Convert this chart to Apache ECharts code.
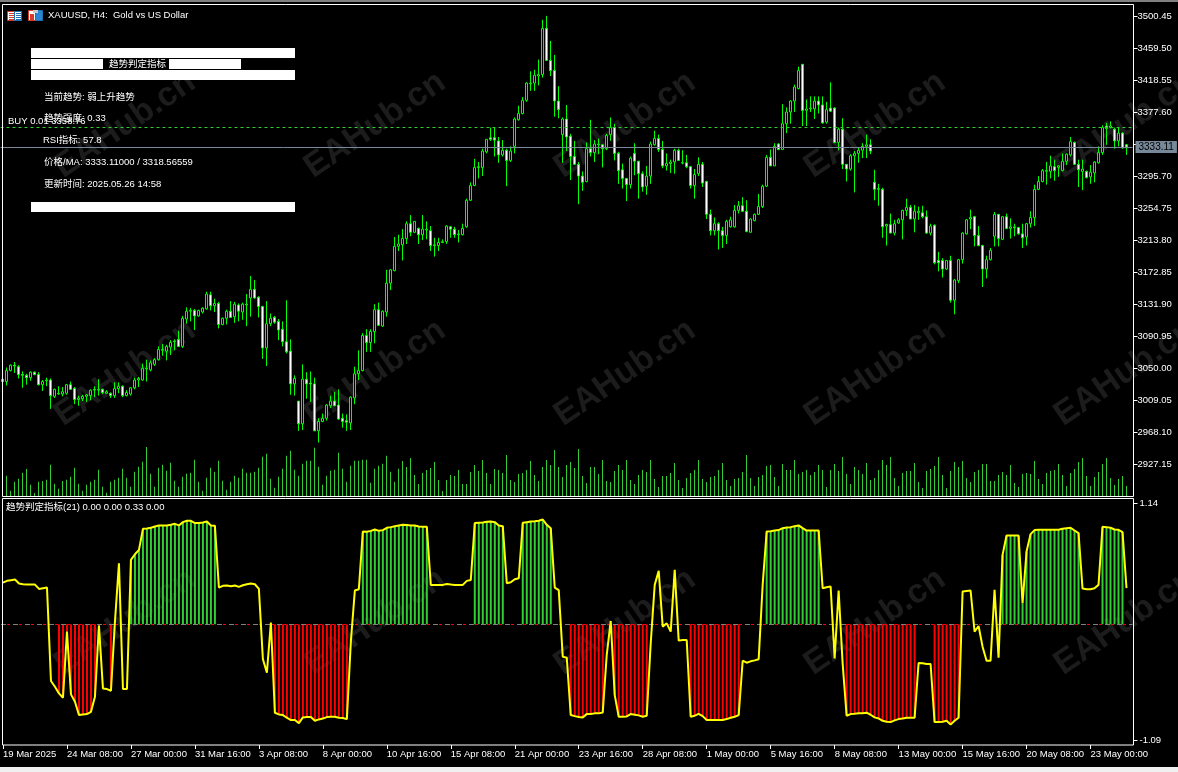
<!DOCTYPE html>
<html><head><meta charset="utf-8">
<style>html,body{margin:0;padding:0;background:#000}#c{width:1178px;height:772px}</style>
<script src="https://cdn.jsdelivr.net/npm/echarts@6/dist/echarts.min.js"></script>
</head><body><div id="c"></div>
<script>
const tickLabels=['19 Mar 2025','24 Mar 08:00','27 Mar 00:00','31 Mar 16:00','3 Apr 08:00','8 Apr 00:00','10 Apr 16:00','15 Apr 08:00','21 Apr 00:00','23 Apr 16:00','28 Apr 08:00','1 May 00:00','5 May 16:00','8 May 08:00','13 May 00:00','15 May 16:00','20 May 08:00','23 May 00:00'];
const priceTicks=[3500.45,3459.50,3418.55,3377.60,3336.65,3295.70,3254.75,3213.80,3172.85,3131.90,3090.95,3050.00,3009.05,2968.10,2927.15];
const indicatorTicks=[1.14,-1.09];
const lastPrice=3333.11, buyPrice=3358.3;
const opens=[3033,3033,3047,3054,3052,3042,3041,3038,3045,3042,
3029,3034,3035,3014,3017,3017,3018,3029,3024,3010,
3011,3014,3015,3022,3022,3023,3018,3018,3015,3024,
3027,3015,3017,3025,3035,3035,3049,3048,3055,3061,
3073,3072,3077,3084,3087,3078,3113,3123,3124,3117,
3122,3126,3144,3130,3133,3106,3114,3123,3116,3131,
3122,3131,3140,3151,3141,3129,3076,3107,3115,3110,
3100,3084,3072,3030,3008,2979,3036,3031,3030,2970,
2982,2986,3002,3008,3003,2986,2983,2980,3012,3043,
3047,3092,3083,3097,3125,3104,3122,3159,3175,3206,
3208,3216,3235,3224,3229,3221,3227,3226,3207,3207,
3211,3212,3231,3228,3221,3221,3231,3265,3284,3307,
3307,3327,3345,3345,3341,3323,3329,3316,3334,3368,
3376,3393,3414,3415,3424,3426,3485,3444,3431,3392,
3349,3369,3347,3321,3311,3296,3289,3331,3326,3336,
3336,3331,3349,3358,3325,3304,3293,3285,3325,3315,
3299,3283,3296,3336,3344,3330,3309,3312,3314,3329,
3312.6,3313,3308,3284,3299,3311,3289,3247,3226,3235,
3226,3220,3231,3231,3252,3258,3251,3224,3239,3247,
3257,3283,3320,3309,3337,3330,3363,3378,3392,3408,
3439,3380,3382,3382,3392,3387,3365,3383,3383,3339,
3356,3311,3305,3322,3325,3329,3334,3336,3288,3279,
3279,3232,3234,3223,3236,3240,3252,3256,3241,3249,
3249,3244,3223,3233,3188,3188,3177,3188,3137,3162,
3189,3222,3241,3244,3220,3207,3177,3189,3219,3247,
3215,3244,3229,3230,3230,3222,3218,3235,3243,3279,
3289,3302,3302,3308,3307,3303,3315,3323,3339,3311,
3302,3302,3295,3300,3313,3326,3360,3358,3356,3341,
3351,3336];
const closes=[3036,3047,3054,3053,3042,3041,3038,3045,3042,3029,
3033,3035,3015,3023,3018,3020,3029,3023,3010,3012,
3014,3016,3022,3023,3023,3019,3020,3015,3024,3027,
3015,3019,3025,3035,3037,3050,3050,3057,3061,3074,
3074,3078,3083,3085,3078,3114,3123,3124,3117,3124,
3127,3145,3130,3133,3106,3114,3123,3115,3132,3123,
3132,3132,3151,3140,3129,3076,3107,3114,3109,3099,
3084,3071,3030,3037,2979,3036,3030,3030,2970,2982,
2986,3003,3008,3002,2985,2982,2981,3013,3043,3047,
3092,3083,3097,3125,3105,3123,3159,3176,3206,3209,
3216,3235,3224,3238,3221,3228,3228,3207,3208,3211,
3212,3232,3228,3221,3222,3229,3265,3284,3307,3308,
3328,3343,3343,3342,3323,3329,3316,3328,3369,3376,
3393,3415,3415,3425,3426,3485,3444,3431,3392,3381,
3369,3346,3321,3311,3296,3288,3331,3326,3337,3337,
3331,3348,3358,3325,3303,3293,3285,3319,3315,3299,
3282,3296,3337,3344,3330,3309,3312,3314,3329,3316,
3313,3308,3284,3298,3311,3287,3247,3226,3235,3226,
3220,3238,3240,3252,3258,3251,3225,3241,3247,3257,
3283,3320,3309,3334,3330,3363,3378,3392,3410,3431,
3380,3382,3383,3392,3387,3364,3381,3379,3339,3356,
3311,3305,3322,3325,3329,3334,3336,3328,3279,3280,
3231,3234,3223,3235,3240,3252,3256,3241,3251,3251,
3244,3223,3232,3185,3185,3177,3188,3137,3163,3189,
3223,3240,3243,3220,3207,3177,3189,3201,3247,3216,
3244,3229,3231,3231,3222,3217,3235,3243,3279,3289,
3303,3303,3309,3303,3309,3315,3324,3340,3311,3304,
3305,3294,3301,3314,3326,3358,3357,3360,3341,3351,
3332,3333.11];
const lows=[3031,3028,3046,3044,3037,3025,3029,3034,3041,3028,
3021,3027,2998,3012,3016,3014,3016,3023,3004,3002,
3008,3007,3009,3013,3015,3017,3017,3012,3012,3018,
3013,3014,3015,3023,3026,3034,3033,3046,3053,3060,
3066,3060,3067,3073,3078,3076,3107,3110,3099,3116,
3120,3125,3124,3122,3101,3105,3106,3115,3108,3110,
3112,3104,3116,3139,3115,3062,3053,3104,3107,3086,
3078,3069,3016,3015,2970,2971,3011,3007,2970,2955,
2981,2983,2999,3002,2984,2974,2970,2971,3004,3035,
3046,3071,3071,3082,3104,3103,3116,3150,3174,3200,
3188,3209,3219,3223,3209,3214,3215,3200,3193,3200,
3210,3209,3217,3217,3211,3220,3230,3264,3283,3293,
3296,3325,3341,3321,3313,3321,3283,3314,3325,3367,
3375,3391,3405,3405,3412,3422,3444,3424,3372,3370,
3313,3328,3291,3310,3260,3277,3288,3321,3314,3324,
3307,3329,3341,3316,3286,3280,3264,3280,3297,3267,
3276,3272,3286,3335,3327,3306,3303,3300,3299,3316,
3311,3306,3280,3267,3296,3282,3241,3220,3220,3202,
3204,3209,3230,3230,3248,3250,3224,3224,3238,3246,
3255,3282,3309,3309,3329,3330,3351,3363,3378,3407,
3360,3360,3378,3369,3376,3363,3363,3378,3338,3329,
3305,3289,3303,3275,3313,3319,3319,3324,3265,3258,
3217,3207,3223,3220,3235,3215,3245,3241,3224,3240,
3242,3222,3220,3183,3174,3166,3176,3134,3119,3159,
3184,3221,3228,3206,3206,3154,3165,3188,3206,3206,
3214,3228,3216,3219,3221,3204,3207,3230,3232,3278,
3288,3285,3293,3290,3295,3302,3310,3321,3310,3282,
3278,3293,3286,3288,3312,3323,3336,3357,3331,3334,
3331,3323];
const highs=[3037,3051,3055,3058,3054,3046,3043,3046,3046,3045,
3035,3038,3037,3024,3027,3026,3030,3033,3026,3015,
3016,3017,3023,3027,3036,3024,3022,3019,3032,3032,
3028,3022,3026,3038,3039,3056,3061,3060,3063,3078,
3081,3080,3086,3087,3098,3117,3128,3127,3126,3125,
3128,3148,3148,3139,3135,3115,3125,3136,3135,3133,
3134,3145,3168,3163,3142,3130,3136,3120,3117,3113,
3110,3137,3087,3041,3008,3055,3045,3046,3038,2986,
2992,3004,3015,3020,3023,2992,2991,3014,3052,3073,
3095,3100,3100,3132,3134,3124,3176,3177,3218,3221,
3228,3238,3246,3238,3230,3246,3238,3232,3217,3217,
3215,3233,3232,3231,3227,3235,3267,3288,3318,3314,
3331,3343,3358,3358,3346,3342,3331,3334,3371,3386,
3397,3416,3430,3432,3445,3496,3501,3469,3451,3411,
3371,3387,3350,3341,3314,3302,3339,3368,3342,3344,
3337,3350,3371,3363,3327,3312,3293,3321,3338,3315,
3302,3309,3340,3354,3349,3341,3325,3317,3331,3331,
3329,3323,3309,3305,3320,3314,3290,3253,3243,3237,
3231,3240,3244,3259,3264,3269,3265,3242,3248,3273,
3285,3323,3330,3338,3338,3388,3384,3393,3413,3436,
3439,3394,3398,3398,3398,3398,3391,3416,3384,3358,
3370,3311,3324,3328,3333,3338,3349,3343,3304,3286,
3281,3235,3248,3240,3242,3253,3267,3259,3259,3257,
3258,3252,3235,3234,3199,3191,3188,3194,3164,3190,
3224,3241,3253,3245,3232,3208,3194,3204,3250,3247,
3245,3248,3242,3235,3231,3235,3236,3251,3285,3296,
3305,3314,3322,3317,3310,3325,3325,3346,3340,3317,
3317,3303,3310,3315,3334,3361,3364,3366,3358,3358,
3352,3337];
const volumes=[0,61,16,43,52,70,81,34,9,43,
45,49,94,37,22,45,49,58,85,37,
16,34,43,49,79,28,10,43,49,55,
82,55,28,73,88,103,147,67,28,85,
94,76,100,46,28,58,67,70,109,43,
16,55,85,73,106,46,19,43,61,55,
82,70,70,73,85,118,127,52,25,58,
82,121,136,79,61,97,106,106,145,88,
34,61,76,79,130,82,43,91,106,106,
109,109,40,82,91,97,121,73,43,82,
105,87,114,63,36,69,78,84,102,48,
15,48,63,60,78,36,36,72,93,75,
108,69,36,81,78,69,123,48,42,66,
69,78,105,63,45,87,108,93,138,87,
57,93,102,84,141,60,39,87,87,66,
108,45,42,75,93,78,108,48,36,63,
78,72,108,51,27,60,60,69,99,48,
24,54,69,78,108,51,42,57,60,78,
99,48,30,51,54,72,123,54,30,57,
63,90,93,57,30,96,78,78,108,66,
72,78,63,72,93,78,27,78,96,75,
117,66,36,87,78,66,99,48,54,78,
108,93,117,54,30,69,75,75,99,42,
24,75,81,90,117,63,24,75,102,87,
105,54,42,72,78,96,96,45,45,63,
72,63,93,39,27,66,69,66,105,51,
36,69,75,78,96,63,30,69,81,102,
114,60,30,57,72,96,114,54,33,51,
60,30];
const trendLine=[.393,.409,.415,.421,.384,.377,.374,.374,.374,.333,
.340,.346,-.534,-.588,-.651,-.692,-.069,-.660,-.729,-.855,
-.849,-.846,-.824,-.682,-.013,-.604,-.610,-.626,.025,.575,
-.610,-.610,.607,.660,.701,.899,.902,.909,.921,.931,
.931,.931,.937,.946,.931,.962,.975,.975,.953,.953,
.959,.968,.931,.927,.346,.362,.365,.358,.365,.352,
.368,.377,.384,.377,.333,-.327,-.456,.016,-.833,-.849,
-.855,-.880,-.902,-.902,-.931,-.877,-.874,-.874,-.909,-.896,
-.887,-.874,-.871,-.871,-.880,-.883,-.893,-.163,.318,.330,
.874,.871,.880,.893,.880,.887,.909,.915,.924,.931,
.937,.934,.931,.931,.921,.918,.918,.371,.371,.371,
.371,.380,.374,.371,.371,.371,.409,.418,.953,.956,
.959,.965,.968,.962,.931,.924,.387,.396,.424,.434,
.956,.962,.968,.971,.975,.987,.937,.905,.346,.321,
-.305,-.314,-.855,-.865,-.874,-.877,-.846,-.846,-.839,-.839,
-.830,-.289,.031,-.667,-.871,-.871,-.868,-.846,-.852,-.858,
-.871,-.861,-.179,.371,.503,-.022,.009,-.069,.512,-.154,
-.148,-.148,-.871,-.861,-.843,-.865,-.902,-.902,-.902,-.902,
-.902,-.893,-.880,-.871,-.855,-.343,-.362,-.349,-.340,-.330,
.371,.874,.877,.883,.887,.905,.912,.915,.924,.931,
.905,.883,.883,.883,.883,.340,.349,.355,-.321,.318,
-.368,-.861,-.846,-.843,-.839,-.839,-.833,-.852,-.877,-.887,
-.909,-.918,-.921,-.905,-.893,-.887,-.880,-.880,-.880,-.365,
-.368,-.374,-.374,-.921,-.921,-.918,-.909,-.943,-.909,-.880,
.308,.314,.318,-.069,-.016,-.211,-.343,-.343,.324,-.314,
.654,.836,.836,.836,.836,.198,.685,.849,.887,.890,
.890,.890,.890,.890,.890,.899,.905,.909,.883,.858,
.336,.330,.330,.340,.371,.918,.915,.909,.893,.890,
.868,.340];
const greenRuns=[[32,53],[90,106],[118,125],[130,137],[191,204],[250,269],[275,280]];
const redRuns=[[14,24],[27,27],[68,86],[142,150],[153,161],[172,184],[211,228],[233,239]];
const watermarkCols=[125,375,625,875,1125];
const watermarkRows=[125,373,622];
const panelLines=[['当前趋势: 弱上升趋势',44,97],['趋势强度: 0.33',44,118],['RSI指标: 57.8',43,140],['价格/MA: 3333.11000 / 3318.56559',44,162],['更新时间: 2025.05.26 14:58',44,184]];

const bandCount=opens.length+1;
const categories=Array.from({length:bandCount},(_,i)=>i%16===0&&tickLabels[i/16]?tickLabels[i/16]:'');
const candleData=opens.map((o,i)=>[o,closes[i],lows[i],highs[i]]);
const inRuns=(runs,i)=>runs.some(r=>i>=r[0]&&i<=r[1]);
const greenBars=trendLine.map((v,i)=>inRuns(greenRuns,i)?v:null);
const redBars=trendLine.map((v,i)=>inRuns(redRuns,i)?v:null);
const FONT='"Liberation Sans"';
const CJK='"Liberation Sans","Noto Sans CJK SC"';
const graphic=[];
graphic.push({type:'rect',z:0,shape:{x:0,y:0,width:1178,height:2},style:{fill:'#808080'}});
graphic.push({type:'rect',z:0,shape:{x:0,y:767,width:1178,height:5},style:{fill:'#f0f0f0'}});
watermarkRows.forEach(y=>watermarkCols.forEach(x=>graphic.push({type:'text',z:0,x,y,rotation:0.6,style:{text:'EAHub.cn',fill:'#1c1c1c',font:'bold 34px "Liberation Sans"',align:'center',verticalAlign:'middle'}})));
graphic.push({type:'rect',z:60,shape:{x:2.5,y:4.5,width:1131,height:492},style:{fill:null,stroke:'#fff',lineWidth:1}});
graphic.push({type:'rect',z:60,shape:{x:2.5,y:498.5,width:1131,height:246.5},style:{fill:null,stroke:'#fff',lineWidth:1}});
[[31,48,264,10],[31,59,72,10],[169,59,72,10],[31,70,264,10],[31,202,264,10]].forEach(r=>graphic.push({type:'rect',z:70,shape:{x:r[0],y:r[1],width:r[2],height:r[3]},style:{fill:'#fff'}}));
const txt=(t,x,y,extra)=>graphic.push({type:'text',z:72,x,y,style:Object.assign({text:t,fill:'#fff',font:'9.5px '+CJK,align:'left',verticalAlign:'middle'},extra||{})});
txt('BUY 0.01 3358.76',8,121.5);
panelLines.forEach(l=>txt(l[0],l[1],l[2]));
txt('趋势判定指标',109,64);
txt('XAUUSD, H4:  Gold vs US Dollar',48,15.5);
txt('趋势判定指标(21) 0.00 0.00 0.33 0.00',6,507.5);
// toolbar icons
const box=(x,y,w,h,fill,stroke)=>graphic.push({type:'rect',z:72,shape:{x,y,width:w,height:h},style:{fill,stroke:stroke||null,lineWidth:1}});
box(7.5,11.5,7,9,'#fff','#d83a2a');box(14.5,11.5,7,9,'#fff','#1f6fb5');
[13,15,17,19].forEach(y=>{box(9,y,5,1,'#d83a2a');box(16,y,5,1,'#1f6fb5');});
box(28.5,10.5,7,10,'#fff','#d83a2a');box(35.5,10.5,7,10,'#2a86d0','#1f6fb5');
box(30,14,4,6,'#d83a2a');box(33,10,5,3,'#c8c8c8');

const hiddenX=(g)=>({type:'category',gridIndex:g,data:categories,boundaryGap:true,axisLine:{show:false,onZero:false},axisTick:{show:false},axisLabel:{show:false},splitLine:{show:false}});
const chart=echarts.init(document.getElementById('c'),null,{renderer:'canvas'});
chart.setOption({
  animation:false,backgroundColor:'#000',graphic,
  grid:[
    {left:.5,top:5,width:1132,height:491.5},
    {left:.5,top:446,width:1132,height:50},
    {left:.5,top:499,width:1132,height:246}
  ],
  xAxis:[hiddenX(0),hiddenX(1),{
    type:'category',gridIndex:2,position:'bottom',data:categories,boundaryGap:true,
    axisLine:{show:false,onZero:false},
    axisTick:{show:true,alignWithLabel:true,interval:i=>i%16===0,length:4,lineStyle:{color:'#fff',width:1}},
    axisLabel:{show:true,interval:i=>i%16===0,color:'#fff',fontFamily:FONT,fontSize:9.5,align:'left',margin:4,hideOverlap:false},
    splitLine:{show:false}
  }],
  yAxis:[{
    type:'value',gridIndex:0,position:'right',offset:1,min:2885.9,max:3514.9,scale:true,
    axisLine:{show:false},
    axisTick:{show:true,length:4,customValues:priceTicks,lineStyle:{color:'#fff'}},
    axisLabel:{show:true,customValues:priceTicks,color:'#fff',fontFamily:FONT,fontSize:9.5,margin:4,formatter:v=>v.toFixed(2),hideOverlap:false},
    splitLine:{show:false}
  },{
    type:'value',gridIndex:1,min:0,max:150,show:false,splitLine:{show:false}
  },{
    type:'value',gridIndex:2,position:'right',offset:1,min:-1.137,max:1.18,
    axisLine:{show:false},
    axisTick:{show:true,length:4,customValues:indicatorTicks,lineStyle:{color:'#fff'}},
    axisLabel:{show:true,customValues:indicatorTicks,color:'#fff',fontFamily:FONT,fontSize:9.5,margin:6,formatter:v=>v.toFixed(2),hideOverlap:false},
    splitLine:{show:false}
  }],
  series:[
    {type:'bar',name:'Volume',xAxisIndex:1,yAxisIndex:1,data:volumes,barWidth:1,itemStyle:{color:'#32CD32'},z:2,silent:true},
    {type:'candlestick',name:'XAUUSD',xAxisIndex:0,yAxisIndex:0,data:candleData,barWidth:3,z:3,silent:true,
      itemStyle:{color:'#000',color0:'#fff',borderColor:'#00ff00',borderColor0:'#00ff00',borderWidth:1},
      markLine:{silent:true,symbol:'none',animation:false,data:[
        {yAxis:buyPrice,lineStyle:{color:'#32CD32',type:[3,3],width:1},label:{show:false}},
        {yAxis:lastPrice,lineStyle:{color:'#778899',type:'solid',width:1},
         label:{show:true,position:'end',distance:3,formatter:()=>lastPrice.toFixed(2),backgroundColor:'#778899',color:'#000',fontFamily:FONT,fontSize:10,padding:[1,3,1,3]}}
      ]}},
    {type:'bar',name:'Up',xAxisIndex:2,yAxisIndex:2,data:greenBars,barWidth:2,barGap:'-100%',itemStyle:{color:'#32CD32'},z:2,silent:true,
      markLine:{silent:true,symbol:'none',animation:false,z:3,data:[
        {yAxis:0,lineStyle:{color:'#808080',type:[5,7],width:1},label:{show:false}}]}},
    {type:'bar',name:'Down',xAxisIndex:2,yAxisIndex:2,data:redBars,barWidth:2,barGap:'-100%',itemStyle:{color:'#ff0000'},z:2,silent:true,
      markLine:{silent:true,symbol:'none',animation:false,z:3,data:[
        {yAxis:0,lineStyle:{color:'#ff0000',type:[3,9],dashOffset:6,width:1},label:{show:false}}]}},
    {type:'line',name:'Trend',xAxisIndex:2,yAxisIndex:2,data:trendLine,symbol:'none',smooth:false,lineStyle:{color:'#ffff00',width:2},z:5,silent:true}
  ]
});
</script></body></html>
